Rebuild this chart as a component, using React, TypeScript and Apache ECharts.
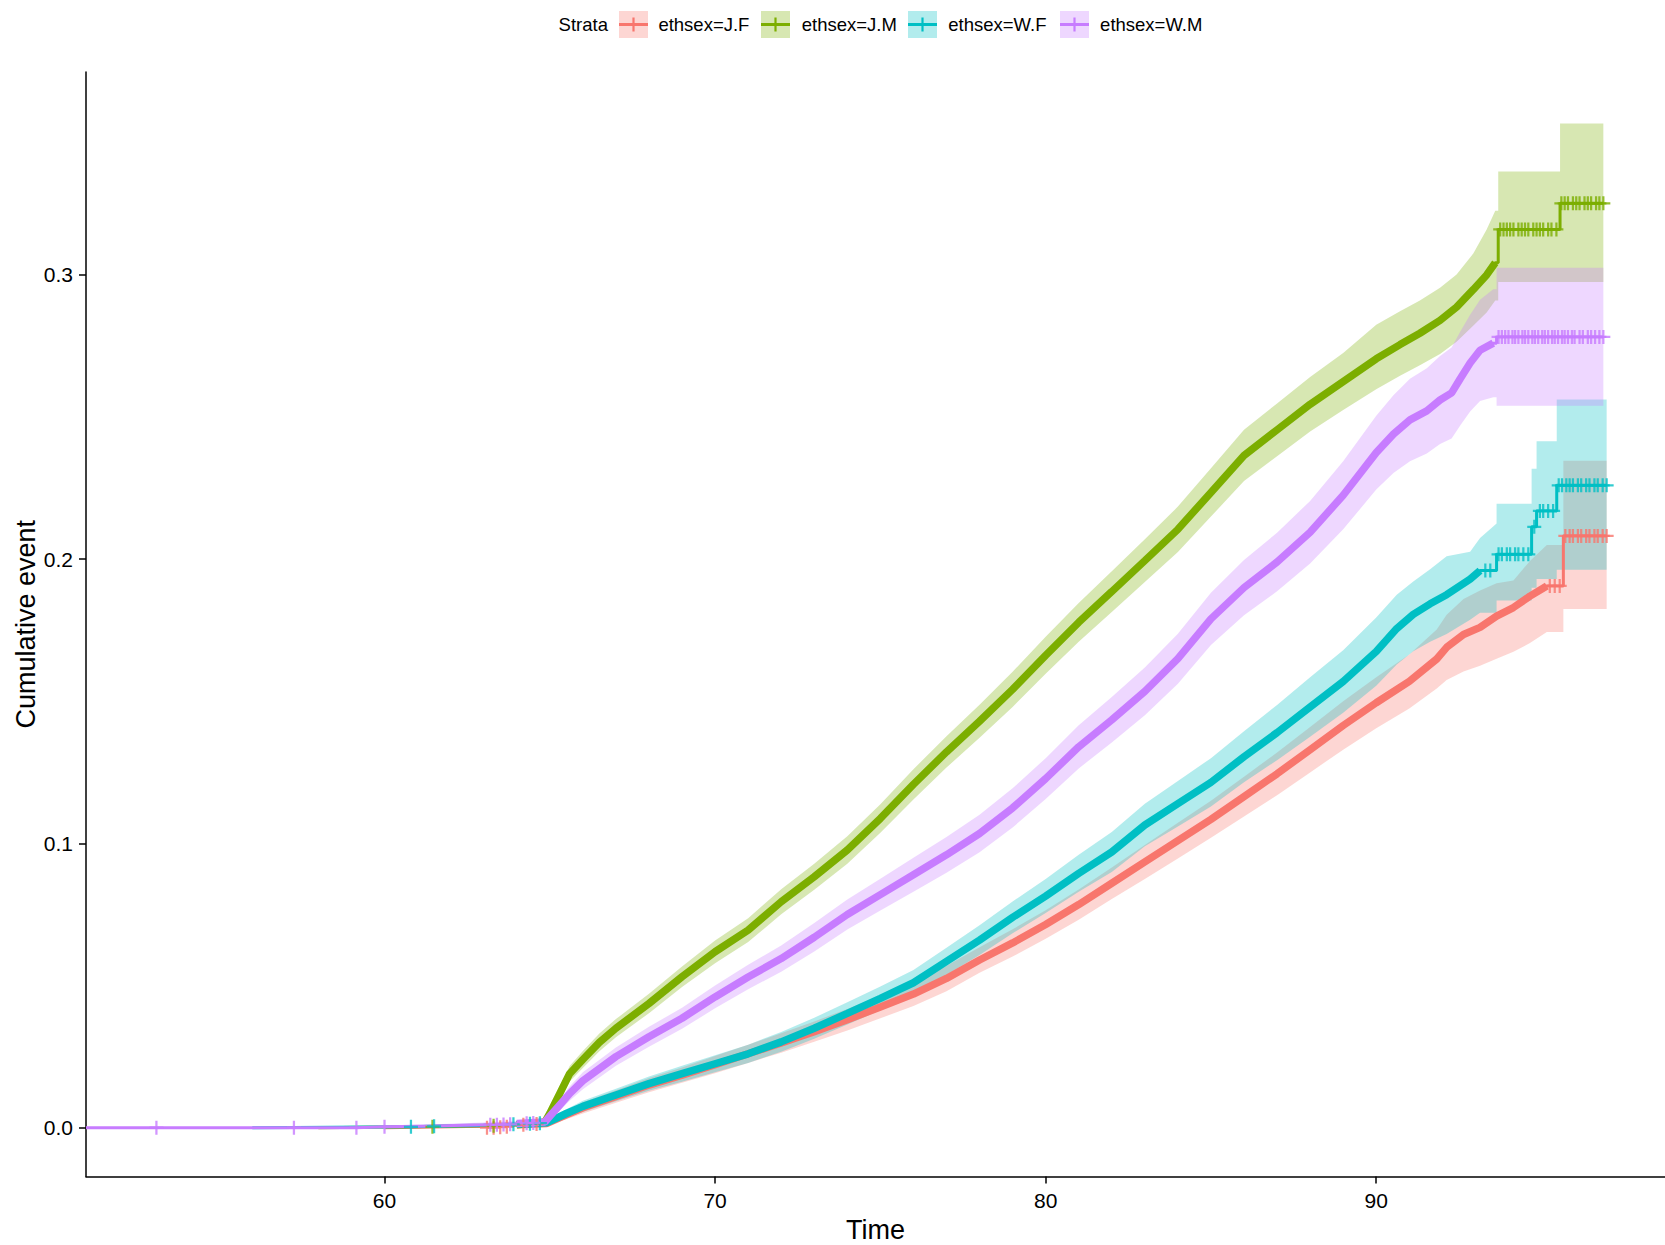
import React, { useEffect, useRef } from "react";
import * as echarts from "echarts";

// ---------- data ----------
const strata = ["ethsex=J.F", "ethsex=J.M", "ethsex=W.F", "ethsex=W.M"];
const colors = ["#F8766D", "#7CAE00", "#00BFC4", "#C77CFF"];
const xTicks = [60, 70, 80, 90];
const yTicks = [0, 0.1, 0.2, 0.3];
const X_MIN = 50.97;
const X_MAX = 98.735;
const Y_MIN = -0.0172;
const Y_MAX = 0.3714;

// [time, cumulative event, lower CI, upper CI]
const curveJF = [
  [60.0, 0, 0, 0],
  [62.0, 0.0003, 0, 0.0008],
  [63.0, 0.0005, 0, 0.0012],
  [64.0, 0.001, 0.0003, 0.0018],
  [64.9, 0.0015, 0.0007, 0.0024],
  [65.5, 0.0045, 0.003, 0.006],
  [66, 0.007, 0.005, 0.009],
  [67, 0.011, 0.0088, 0.0132],
  [68, 0.015, 0.0125, 0.0175],
  [69, 0.0185, 0.0158, 0.0212],
  [70, 0.0222, 0.0192, 0.0252],
  [71, 0.026, 0.0228, 0.0292],
  [72, 0.0298, 0.0264, 0.0332],
  [73, 0.0338, 0.0302, 0.0374],
  [74, 0.038, 0.0342, 0.0418],
  [75, 0.0425, 0.0385, 0.0465],
  [76, 0.047, 0.0428, 0.0512],
  [77, 0.0525, 0.048, 0.057],
  [78, 0.059, 0.0545, 0.0635],
  [79, 0.065, 0.0602, 0.0698],
  [80, 0.0715, 0.0665, 0.0765],
  [81, 0.0785, 0.0732, 0.0838],
  [82, 0.086, 0.0805, 0.0915],
  [83, 0.0935, 0.0875, 0.0995],
  [84, 0.101, 0.0947, 0.1073],
  [85, 0.1085, 0.102, 0.115],
  [86, 0.1165, 0.1095, 0.1235],
  [87, 0.1245, 0.117, 0.132],
  [88, 0.133, 0.125, 0.141],
  [89, 0.1415, 0.133, 0.15],
  [90, 0.1495, 0.1405, 0.1585],
  [91, 0.157, 0.1475, 0.1665],
  [91.83, 0.1649, 0.1545, 0.1753],
  [92.13, 0.169, 0.1575, 0.1805],
  [92.64, 0.1735, 0.1605, 0.186],
  [93.14, 0.176, 0.1625, 0.189],
  [93.64, 0.18, 0.165, 0.1915],
  [94.15, 0.183, 0.1674, 0.1925],
  [94.65, 0.187, 0.1705, 0.1994],
  [95.16, 0.1906, 0.1744, 0.205],
  [95.66, 0.1906, 0.1744, 0.205],
  [95.66, 0.2082, 0.1825, 0.2346],
  [96.97, 0.2082, 0.1825, 0.2346],
];

const curveJM = [
  [58.0, 0, 0, 0],
  [61.5, 0.0004, 0, 0.001],
  [63.0, 0.0007, 0.0001, 0.0015],
  [64.0, 0.001, 0.0003, 0.0019],
  [64.85, 0.002, 0.001, 0.003],
  [65.0, 0.005, 0.0032, 0.0068],
  [65.3, 0.012, 0.0095, 0.0145],
  [65.6, 0.019, 0.0163, 0.0217],
  [66.0, 0.024, 0.021, 0.027],
  [66.5, 0.03, 0.0269, 0.0331],
  [67, 0.035, 0.0318, 0.0382],
  [68, 0.0437, 0.0403, 0.0471],
  [69, 0.0531, 0.0495, 0.0567],
  [70, 0.0619, 0.0579, 0.0659],
  [71, 0.0695, 0.0653, 0.0737],
  [72, 0.0795, 0.0751, 0.0839],
  [73, 0.0883, 0.0837, 0.0929],
  [74, 0.0977, 0.0929, 0.1025],
  [75, 0.1088, 0.1038, 0.1138],
  [76, 0.1208, 0.1155, 0.1261],
  [77, 0.1322, 0.1267, 0.1377],
  [78, 0.143, 0.1372, 0.1488],
  [79, 0.1542, 0.148, 0.1604],
  [80, 0.1662, 0.1597, 0.1727],
  [81, 0.1778, 0.171, 0.1846],
  [82, 0.1886, 0.1814, 0.1958],
  [83, 0.1995, 0.192, 0.207],
  [84, 0.2105, 0.2025, 0.2185],
  [85, 0.2235, 0.215, 0.232],
  [86, 0.2365, 0.2275, 0.2455],
  [87, 0.2455, 0.2362, 0.2548],
  [88, 0.2545, 0.2449, 0.2641],
  [89, 0.2625, 0.2525, 0.2725],
  [90, 0.2705, 0.2598, 0.2825],
  [90.72, 0.2755, 0.2645, 0.2872],
  [91.32, 0.2795, 0.2682, 0.291],
  [91.93, 0.284, 0.2722, 0.2955],
  [92.43, 0.2887, 0.2765, 0.3002],
  [92.94, 0.2949, 0.2822, 0.3076],
  [93.34, 0.3, 0.2868, 0.316],
  [93.6, 0.3043, 0.291, 0.3226],
  [93.69, 0.3043, 0.291, 0.3226],
  [93.69, 0.316, 0.2975, 0.3364],
  [95.56, 0.316, 0.2975, 0.3364],
  [95.56, 0.3252, 0.2975, 0.3533],
  [96.87, 0.3252, 0.2975, 0.3533],
];

const curveWF = [
  [56.0, 0, 0, 0],
  [60.8, 0.0003, 0, 0.0008],
  [61.5, 0.0005, 0, 0.0012],
  [63.0, 0.0008, 0.0002, 0.0015],
  [64.0, 0.0012, 0.0004, 0.002],
  [64.9, 0.0017, 0.0008, 0.0026],
  [65.5, 0.005, 0.0035, 0.0065],
  [66, 0.0075, 0.0055, 0.0095],
  [67, 0.0115, 0.0093, 0.0137],
  [68, 0.0155, 0.013, 0.018],
  [69, 0.019, 0.0162, 0.0218],
  [70, 0.0225, 0.0195, 0.0255],
  [71, 0.026, 0.0228, 0.0292],
  [72, 0.0302, 0.0267, 0.0337],
  [73, 0.035, 0.0313, 0.0387],
  [74, 0.0402, 0.0363, 0.0441],
  [75, 0.0455, 0.0413, 0.0497],
  [76, 0.051, 0.0465, 0.0555],
  [77, 0.0585, 0.0537, 0.0633],
  [78, 0.066, 0.0608, 0.0712],
  [79, 0.074, 0.0684, 0.0796],
  [80, 0.0815, 0.0755, 0.0875],
  [81, 0.0895, 0.083, 0.096],
  [82, 0.097, 0.09, 0.104],
  [83, 0.1065, 0.099, 0.114],
  [84, 0.114, 0.106, 0.122],
  [85, 0.1215, 0.113, 0.13],
  [86, 0.1305, 0.1215, 0.1395],
  [87, 0.139, 0.1293, 0.1487],
  [88, 0.148, 0.1375, 0.1585],
  [89, 0.157, 0.146, 0.168],
  [90, 0.1675, 0.1555, 0.1795],
  [90.62, 0.1756, 0.163, 0.1875],
  [91.12, 0.1806, 0.1676, 0.1922],
  [91.63, 0.1843, 0.171, 0.1965],
  [92.13, 0.1875, 0.1737, 0.201],
  [92.84, 0.193, 0.1787, 0.2026],
  [93.14, 0.196, 0.1812, 0.2075],
  [93.64, 0.196, 0.1812, 0.2126],
  [93.64, 0.2017, 0.1855, 0.2195],
  [94.7, 0.2017, 0.1855, 0.2195],
  [94.7, 0.2114, 0.19, 0.2318],
  [94.85, 0.2114, 0.19, 0.2318],
  [94.85, 0.217, 0.193, 0.2415],
  [95.46, 0.217, 0.193, 0.2415],
  [95.46, 0.226, 0.1963, 0.2562],
  [96.97, 0.226, 0.1963, 0.2562],
];

const curveWM = [
  [50.97, 0, 0, 0],
  [59.15, 0, 0, 0.0004],
  [60.0, 0.0003, 0, 0.0008],
  [61.5, 0.0006, 0.0001, 0.0012],
  [63.0, 0.001, 0.0003, 0.0018],
  [64.0, 0.0015, 0.0006, 0.0024],
  [64.85, 0.002, 0.001, 0.003],
  [65.0, 0.004, 0.0025, 0.0055],
  [65.3, 0.008, 0.006, 0.01],
  [65.6, 0.012, 0.0095, 0.0145],
  [66, 0.0165, 0.0135, 0.0195],
  [67, 0.025, 0.0218, 0.0282],
  [68, 0.032, 0.0285, 0.0355],
  [69, 0.0385, 0.0348, 0.0422],
  [70, 0.046, 0.042, 0.05],
  [71, 0.053, 0.0487, 0.0573],
  [72, 0.0595, 0.0549, 0.0641],
  [73, 0.067, 0.062, 0.072],
  [74, 0.075, 0.0697, 0.0803],
  [75, 0.082, 0.0764, 0.0876],
  [76, 0.089, 0.083, 0.095],
  [77, 0.096, 0.0897, 0.1023],
  [78, 0.1035, 0.0969, 0.1101],
  [79, 0.1125, 0.1056, 0.1194],
  [80, 0.1228, 0.1156, 0.13],
  [81, 0.134, 0.1264, 0.1416],
  [82, 0.1435, 0.1355, 0.1515],
  [83, 0.1535, 0.1451, 0.1619],
  [84, 0.165, 0.1562, 0.1738],
  [85, 0.179, 0.1698, 0.1882],
  [86, 0.19, 0.1803, 0.1997],
  [87, 0.199, 0.1887, 0.2093],
  [88, 0.2095, 0.1985, 0.2205],
  [89, 0.2225, 0.2105, 0.2345],
  [90, 0.2375, 0.2245, 0.2505],
  [90.52, 0.244, 0.2303, 0.2577],
  [91.02, 0.249, 0.2345, 0.2635],
  [91.53, 0.2522, 0.2372, 0.2672],
  [91.93, 0.256, 0.2405, 0.2715],
  [92.28, 0.2585, 0.2425, 0.2745],
  [92.54, 0.2635, 0.247, 0.28],
  [92.84, 0.269, 0.252, 0.286],
  [93.14, 0.2735, 0.2557, 0.2913],
  [93.54, 0.276, 0.257, 0.295],
  [93.64, 0.276, 0.257, 0.295],
  [93.64, 0.2782, 0.254, 0.3025],
  [96.87, 0.2782, 0.254, 0.3025],
];

// censoring marks [time, value]
const censorJF = [
  [63.1, 0], [63.3, 0], [63.5, 0.0002], [63.7, 0.0003], [64.2, 0.001], [64.6, 0.0013],
  [95.25, 0.1906], [95.4, 0.1906], [95.55, 0.1906],
  [95.72, 0.2082], [95.85, 0.2082], [95.95, 0.2082], [96.1, 0.2082], [96.2, 0.2082], [96.35, 0.2082],
  [96.45, 0.2082], [96.6, 0.2082], [96.7, 0.2082], [96.85, 0.2082], [96.97, 0.2082],
];
const censorJM = [
  [61.45, 0.0003], [63.3, 0.0007],
  [93.75, 0.316], [93.85, 0.316], [93.95, 0.316], [94.05, 0.316], [94.15, 0.316], [94.3, 0.316],
  [94.4, 0.316], [94.5, 0.316], [94.6, 0.316], [94.75, 0.316], [94.85, 0.316], [94.95, 0.316],
  [95.05, 0.316], [95.2, 0.316], [95.3, 0.316], [95.45, 0.316],
  [95.6, 0.3252], [95.7, 0.3252], [95.8, 0.3252], [95.95, 0.3252], [96.05, 0.3252], [96.15, 0.3252],
  [96.3, 0.3252], [96.4, 0.3252], [96.5, 0.3252], [96.65, 0.3252], [96.75, 0.3252], [96.87, 0.3252],
];
const censorWF = [
  [60.8, 0.0003], [61.5, 0.0005], [63.9, 0.0012], [64.4, 0.0014], [64.7, 0.0016],
  [93.3, 0.196], [93.45, 0.196],
  [93.7, 0.2017], [93.8, 0.2017], [93.95, 0.2017], [94.05, 0.2017], [94.2, 0.2017],
  [94.3, 0.2017], [94.45, 0.2017], [94.6, 0.2017],
  [94.78, 0.2114],
  [94.95, 0.217], [95.05, 0.217], [95.2, 0.217], [95.35, 0.217],
  [95.52, 0.226], [95.62, 0.226], [95.75, 0.226], [95.85, 0.226], [95.95, 0.226], [96.1, 0.226],
  [96.2, 0.226], [96.35, 0.226], [96.45, 0.226], [96.6, 0.226], [96.7, 0.226], [96.85, 0.226], [96.97, 0.226],
];
const censorWM = [
  [53.1, 0], [57.26, 0], [59.15, 0], [60.0, 0.0003], [63.2, 0.001], [63.4, 0.001],
  [63.6, 0.0011], [63.8, 0.0012], [64.3, 0.0016], [64.5, 0.0017],
  [93.7, 0.2782], [93.8, 0.2782], [93.9, 0.2782], [94.0, 0.2782], [94.12, 0.2782], [94.2, 0.2782],
  [94.3, 0.2782], [94.42, 0.2782], [94.5, 0.2782], [94.6, 0.2782], [94.72, 0.2782], [94.8, 0.2782],
  [94.9, 0.2782], [95.02, 0.2782], [95.1, 0.2782], [95.2, 0.2782], [95.32, 0.2782], [95.4, 0.2782],
  [95.5, 0.2782], [95.62, 0.2782], [95.7, 0.2782], [95.8, 0.2782], [95.92, 0.2782], [96.0, 0.2782],
  [96.15, 0.2782], [96.25, 0.2782], [96.4, 0.2782], [96.5, 0.2782], [96.62, 0.2782], [96.75, 0.2782],
  [96.87, 0.2782],
];

// time range where censor marks are so dense they form a thick band
const bandStart = [64.0, 64.0, 64.0, 64.0];
const bandEnd = [95.16, 93.6, 93.14, 93.54];

const FONT = "'Liberation Sans', Arial, Helvetica, sans-serif";
const PLUS = "path://M4.2,0 L5.8,0 L5.8,4.2 L10,4.2 L10,5.8 L5.8,5.8 L5.8,10 L4.2,10 L4.2,5.8 L0,5.8 L0,4.2 L4.2,4.2 Z";

const legendKeyX = [619, 761, 908, 1060];
const legendTextX = [658.4, 801.7, 948.3, 1100.1];

export default function App() {
  const ref = useRef<HTMLDivElement>(null);

  useEffect(() => {
    if (!ref.current) return;
    const chart = echarts.init(ref.current, null, { renderer: "svg" });
    const curves = [curveJF, curveJM, curveWF, curveWM];
    const censors = [censorJF, censorJM, censorWF, censorWM];
    const series: any[] = [];

    curves.forEach((rows, g) => {
      series.push({
        type: "custom",
        name: strata[g] + " CI",
        coordinateSystem: "cartesian2d",
        data: rows.map((r) => [r[0], r[2], r[3]]),
        encode: { x: 0, y: [1, 2] },
        clip: true,
        silent: true,
        z: 1,
        renderItem: (params: any, api: any) => {
          if (params.dataIndex !== 0) return null;
          const upper = rows.map((r) => api.coord([r[0], r[3]]));
          const lower = rows.map((r) => api.coord([r[0], r[2]])).reverse();
          return {
            type: "polygon",
            shape: { points: upper.concat(lower) },
            style: { fill: colors[g], opacity: 0.3 },
          };
        },
      });
    });

    curves.forEach((rows, g) => {
      series.push({
        type: "line",
        name: strata[g] + " band",
        data: rows.filter((r) => r[0] >= bandStart[g] && r[0] <= bandEnd[g]).map((r) => [r[0], r[1]]),
        showSymbol: false,
        silent: true,
        z: 3,
        lineStyle: { color: colors[g], width: 7.5 },
      });
      series.push({
        type: "line",
        name: strata[g],
        data: rows.map((r) => [r[0], r[1]]),
        showSymbol: false,
        silent: true,
        z: 3,
        lineStyle: { color: colors[g], width: 3 },
      });
      series.push({
        type: "scatter",
        name: strata[g] + " censor",
        data: censors[g],
        symbol: PLUS,
        symbolSize: 14,
        silent: true,
        z: 3,
        itemStyle: { color: colors[g] },
      });
    });

    const graphic: any[] = [
      {
        type: "text",
        x: 558.6,
        y: 24.5,
        style: { text: "Strata", fill: "#000", fontSize: 18.5, fontFamily: FONT, align: "left", verticalAlign: "middle" },
      },
    ];
    strata.forEach((s, g) => {
      const kx = legendKeyX[g];
      graphic.push({ type: "rect", shape: { x: kx, y: 11, width: 29, height: 27 }, style: { fill: colors[g], opacity: 0.3 } });
      graphic.push({ type: "line", shape: { x1: kx, y1: 24.5, x2: kx + 29, y2: 24.5 }, style: { stroke: colors[g], lineWidth: 3 } });
      graphic.push({ type: "line", shape: { x1: kx + 14.5, y1: 17.5, x2: kx + 14.5, y2: 31.5 }, style: { stroke: colors[g], lineWidth: 2.2 } });
      graphic.push({
        type: "text",
        x: legendTextX[g],
        y: 24.5,
        style: { text: s, fill: "#000", fontSize: 18.5, fontFamily: FONT, align: "left", verticalAlign: "middle" },
      });
    });

    chart.setOption({
      animation: false,
      backgroundColor: "#ffffff",
      textStyle: { fontFamily: FONT },
      grid: { left: 86, right: 0, top: 72, bottom: 68.4, containLabel: false, outerBoundsMode: "none" },
      xAxis: {
        type: "value",
        min: X_MIN,
        max: X_MAX,
        splitLine: { show: false },
        axisLine: { show: true, onZero: false, lineStyle: { color: "#000", width: 1.5 } },
        axisTick: { show: true, length: 7, lineStyle: { color: "#000", width: 1.5 }, customValues: xTicks },
        axisLabel: { customValues: xTicks, color: "#000", fontSize: 21, margin: 13, fontFamily: FONT },
        name: "Time",
        nameLocation: "middle",
        nameGap: 40,
        nameTextStyle: { color: "#000", fontSize: 27, fontFamily: FONT },
      },
      yAxis: {
        type: "value",
        min: Y_MIN,
        max: Y_MAX,
        splitLine: { show: false },
        axisLine: { show: true, onZero: false, lineStyle: { color: "#000", width: 1.5 } },
        axisTick: { show: true, length: 7, lineStyle: { color: "#000", width: 1.5 }, customValues: yTicks },
        axisLabel: {
          customValues: yTicks,
          color: "#000",
          fontSize: 21,
          margin: 13,
          fontFamily: FONT,
          formatter: (v: number) => v.toFixed(1),
        },
        name: "Cumulative event",
        nameLocation: "middle",
        nameRotate: 90,
        nameGap: 47,
        nameMoveOverlap: false,
        nameTextStyle: { color: "#000", fontSize: 27, fontFamily: FONT },
      },
      graphic,
      series,
    });

    return () => chart.dispose();
  }, []);

  return (
    <div
      ref={ref}
      style={{ position: "absolute", left: 0, top: 0, width: 1665, height: 1245, background: "#fff" }}
    />
  );
}
